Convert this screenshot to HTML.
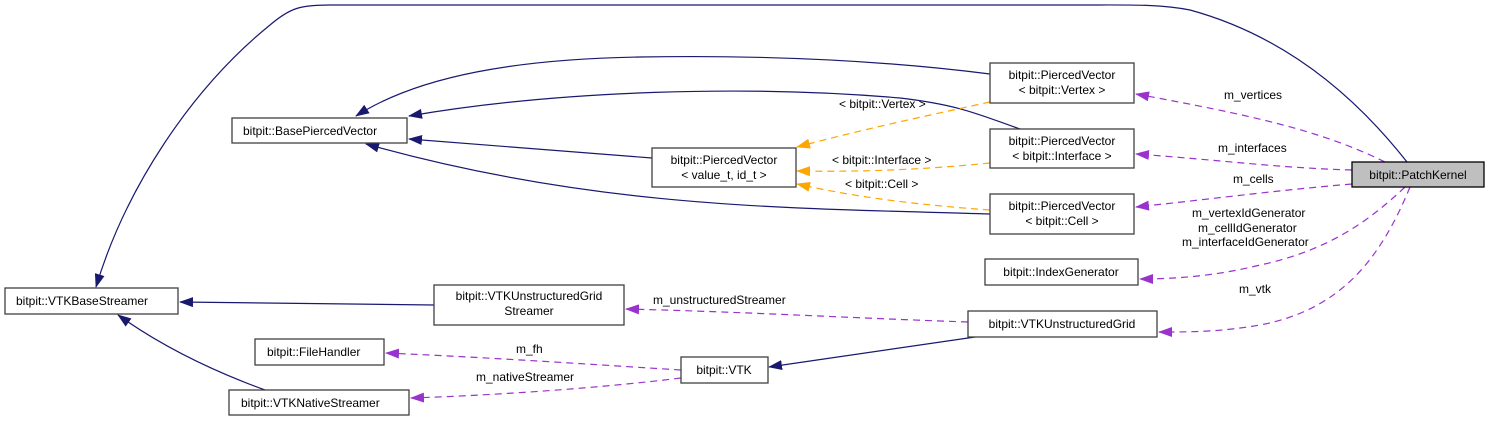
<!DOCTYPE html>
<html><head><meta charset="utf-8"><style>
body{margin:0;background:#fff}
svg{display:block}
text{font-family:"Liberation Sans",sans-serif;font-size:12px;fill:#000}
.b{fill:#fff;stroke:#404040;stroke-width:1.3}
.n{fill:none;stroke:#191970;stroke-width:1.2}
.o{fill:none;stroke:#ffa500;stroke-width:1.2;stroke-dasharray:7,5}
.p{fill:none;stroke:#9a32cd;stroke-width:1.2;stroke-dasharray:7,5}
</style></head><body>
<svg width="1491" height="421" viewBox="0 0 1491 421">
<defs>
<marker id="an" markerWidth="14" markerHeight="10" refX="13" refY="5" orient="auto" markerUnits="userSpaceOnUse"><path d="M0,0 L14,5 L0,10z" fill="#191970"/></marker>
<marker id="ao" markerWidth="14" markerHeight="10" refX="13" refY="5" orient="auto" markerUnits="userSpaceOnUse"><path d="M0,0 L14,5 L0,10z" fill="#ffa500"/></marker>
<marker id="ap" markerWidth="14" markerHeight="10" refX="13" refY="5" orient="auto" markerUnits="userSpaceOnUse"><path d="M0,0 L14,5 L0,10z" fill="#9a32cd"/></marker>
</defs>
<!-- navy -->
<path class="n" marker-end="url(#an)" d="M1407,162 C1370,115 1300,40 1190,10 C1160,4 1130,5 1080,5 L330,5 C300,5 290,8 270,25 C190,90 125,190 96,287"/>
<path class="n" marker-end="url(#an)" d="M990,74 C880,60 760,55 640,57 C520,59 420,75 356,116"/>
<path class="n" marker-end="url(#an)" d="M1020,129 C980,115 960,105 900,98 C750,85 560,90 409,116"/>
<path class="n" marker-end="url(#an)" d="M652,158 L409,139"/>
<path class="n" marker-end="url(#an)" d="M990,214 C800,208 600,210 366,144"/>
<path class="n" marker-end="url(#an)" d="M434,305 L180,302"/>
<path class="n" marker-end="url(#an)" d="M265,390 C210,370 160,345 118,315"/>
<path class="n" marker-end="url(#an)" d="M975,337 L769,367"/>
<!-- orange -->
<path class="o" marker-end="url(#ao)" d="M990,102 C930,115 860,130 797,147"/>
<path class="o" marker-end="url(#ao)" d="M990,163 C920,170 860,172 797,171"/>
<path class="o" marker-end="url(#ao)" d="M990,210 C920,205 860,198 797,184"/>
<!-- purple -->
<path class="p" marker-end="url(#ap)" d="M1385,162 C1320,130 1250,115 1136,94"/>
<path class="p" marker-end="url(#ap)" d="M1352,170 C1280,168 1220,160 1136,154"/>
<path class="p" marker-end="url(#ap)" d="M1352,184 C1280,190 1220,198 1136,207"/>
<path class="p" marker-end="url(#ap)" d="M1405,187 C1370,220 1330,250 1260,265 C1220,275 1180,279 1140,279"/>
<path class="p" marker-end="url(#ap)" d="M1410,187 C1380,260 1340,310 1260,325 C1220,332 1190,332 1159,332"/>
<path class="p" marker-end="url(#ap)" d="M968,322 C850,318 750,312 626,309"/>
<path class="p" marker-end="url(#ap)" d="M681,370 C600,365 500,358 386,353"/>
<path class="p" marker-end="url(#ap)" d="M681,378 C600,388 500,395 411,398"/>
<!-- labels -->
<text x="839" y="108">&lt; bitpit::Vertex &gt;</text>
<text x="832" y="164">&lt; bitpit::Interface &gt;</text>
<text x="845" y="188">&lt; bitpit::Cell &gt;</text>
<text x="1224" y="99">m_vertices</text>
<text x="1218" y="152">m_interfaces</text>
<text x="1233" y="183">m_cells</text>
<text x="1192" y="217">m_vertexIdGenerator</text>
<text x="1198" y="232">m_cellIdGenerator</text>
<text x="1182" y="246">m_interfaceIdGenerator</text>
<text x="1239" y="293">m_vtk</text>
<text x="653" y="304">m_unstructuredStreamer</text>
<text x="516" y="353">m_fh</text>
<text x="476" y="381">m_nativeStreamer</text>
<!-- nodes -->
<rect class="b" x="232" y="118" width="175" height="25"/><text x="243" y="135">bitpit::BasePiercedVector</text>
<rect class="b" x="5" y="288" width="173" height="26"/><text x="16" y="305">bitpit::VTKBaseStreamer</text>
<rect class="b" x="255" y="339" width="129" height="26"/><text x="267" y="356">bitpit::FileHandler</text>
<rect class="b" x="229" y="390" width="180" height="25"/><text x="241" y="407">bitpit::VTKNativeStreamer</text>
<rect class="b" x="434" y="285" width="190" height="40"/><text x="529" y="300" text-anchor="middle">bitpit::VTKUnstructuredGrid</text><text x="529" y="315" text-anchor="middle">Streamer</text>
<rect class="b" x="652" y="148" width="144" height="39"/><text x="724" y="164" text-anchor="middle">bitpit::PiercedVector</text><text x="724" y="179" text-anchor="middle">&lt; value_t, id_t &gt;</text>
<rect class="b" x="990" y="63" width="144" height="40"/><text x="1062" y="79" text-anchor="middle">bitpit::PiercedVector</text><text x="1062" y="94" text-anchor="middle">&lt; bitpit::Vertex &gt;</text>
<rect class="b" x="990" y="129" width="144" height="39"/><text x="1062" y="145" text-anchor="middle">bitpit::PiercedVector</text><text x="1062" y="160" text-anchor="middle">&lt; bitpit::Interface &gt;</text>
<rect class="b" x="990" y="194" width="144" height="40"/><text x="1062" y="210" text-anchor="middle">bitpit::PiercedVector</text><text x="1062" y="225" text-anchor="middle">&lt; bitpit::Cell &gt;</text>
<rect class="b" x="985" y="259" width="153" height="26"/><text x="1061" y="276" text-anchor="middle">bitpit::IndexGenerator</text>
<rect class="b" x="968" y="311" width="189" height="26"/><text x="1062" y="328" text-anchor="middle">bitpit::VTKUnstructuredGrid</text>
<rect class="b" x="681" y="357" width="87" height="26"/><text x="724" y="374" text-anchor="middle">bitpit::VTK</text>
<rect x="1352" y="162" width="132" height="25" fill="#bfbfbf" stroke="#000" stroke-width="1.3"/><text x="1418" y="179" text-anchor="middle">bitpit::PatchKernel</text>
</svg>
</body></html>
